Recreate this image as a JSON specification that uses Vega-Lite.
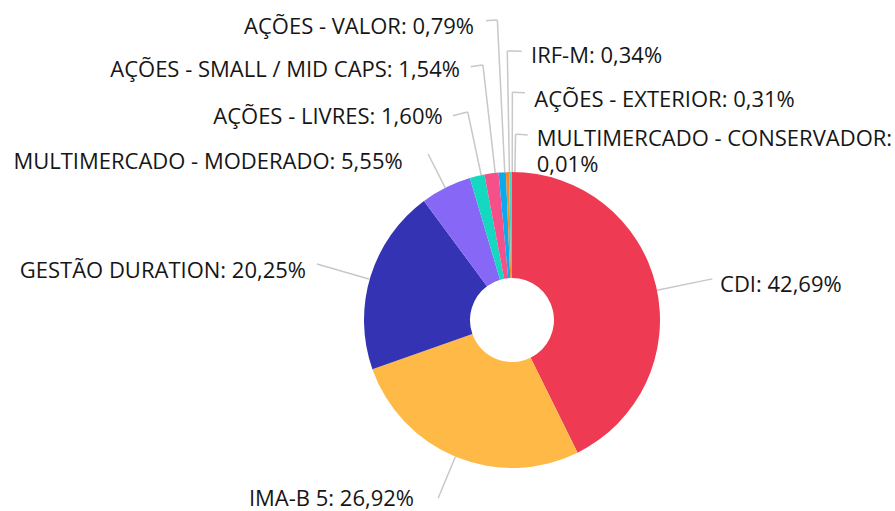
{
  "$schema": "https://vega.github.io/schema/vega-lite/v6.json",
  "width": 766,
  "height": 382,
  "padding": {"left": 129, "top": 129, "right": 0, "bottom": 0},
  "autosize": {"type": "none"},
  "background": "#ffffff",
  "config": {"view": {"stroke": null}},
  "data": {
    "values": [
      {"cat": "CDI", "value": 42.69},
      {"cat": "IMA-B 5", "value": 26.92},
      {"cat": "GESTÃO DURATION", "value": 20.25},
      {"cat": "MULTIMERCADO - MODERADO", "value": 5.55},
      {"cat": "AÇÕES - LIVRES", "value": 1.60},
      {"cat": "AÇÕES - SMALL / MID CAPS", "value": 1.54},
      {"cat": "AÇÕES - VALOR", "value": 0.79},
      {"cat": "IRF-M", "value": 0.34},
      {"cat": "AÇÕES - EXTERIOR", "value": 0.31},
      {"cat": "MULTIMERCADO - CONSERVADOR", "value": 0.01}
    ]
  },
  "transform": [
    {"stack": "value", "groupby": [], "as": ["v0", "v1"]},
    {"calculate": "(datum.v0 + datum.v1) / 2", "as": "mid"},
    {"calculate": "datum.cat + ': ' + replace(format(datum.value, '.2f'), '.', ',') + '%'", "as": "label"}
  ],
  "layer": [
    {
      "mark": {"type": "arc", "outerRadius": 148, "innerRadius": 42},
      "encoding": {
        "theta": {"field": "v0", "type": "quantitative", "stack": null, "scale": {"type": "linear", "domain": [0, 100], "range": [0, 6.283185307179586]}},
        "theta2": {"field": "v1"},
        "color": {
          "field": "cat", "type": "nominal", "legend": null,
          "scale": {
            "domain": ["CDI", "IMA-B 5", "GESTÃO DURATION", "MULTIMERCADO - MODERADO", "AÇÕES - LIVRES", "AÇÕES - SMALL / MID CAPS", "AÇÕES - VALOR", "IRF-M", "AÇÕES - EXTERIOR", "MULTIMERCADO - CONSERVADOR"],
            "range": ["#EE3A52", "#FFB946", "#3333B3", "#8768F6", "#14D9C0", "#F5508A", "#0BAAEF", "#F7892B", "#3CD6D0", "#FF6A3D"]
          }
        }
      }
    },
    {"transform": [{"filter": "datum.cat === 'CDI'"}], "mark": {"type": "arc", "outerRadius": 204.5, "innerRadius": 148, "thetaOffset": 0.0272, "theta2Offset": 0.0272, "stroke": "#c8c8c8", "strokeWidth": 1.5, "fillOpacity": 0}, "encoding": {"theta": {"field": "mid", "type": "quantitative", "stack": null, "scale": {"type": "linear", "domain": [0, 100], "range": [0, 6.283185307179586]}}, "theta2": {"field": "mid"}}},
    {"transform": [{"filter": "datum.cat === 'IMA-B 5'"}], "mark": {"type": "arc", "outerRadius": 193, "innerRadius": 148, "thetaOffset": 0.0063, "theta2Offset": 0.0063, "stroke": "#c8c8c8", "strokeWidth": 1.5, "fillOpacity": 0}, "encoding": {"theta": {"field": "mid", "type": "quantitative", "stack": null, "scale": {"type": "linear", "domain": [0, 100], "range": [0, 6.283185307179586]}}, "theta2": {"field": "mid"}}},
    {"transform": [{"filter": "datum.cat === 'GESTÃO DURATION'"}], "mark": {"type": "arc", "outerRadius": 203, "innerRadius": 148, "thetaOffset": -0.0183, "theta2Offset": -0.0183, "stroke": "#c8c8c8", "strokeWidth": 1.5, "fillOpacity": 0}, "encoding": {"theta": {"field": "mid", "type": "quantitative", "stack": null, "scale": {"type": "linear", "domain": [0, 100], "range": [0, 6.283185307179586]}}, "theta2": {"field": "mid"}}},
    {"transform": [{"filter": "datum.cat === 'MULTIMERCADO - MODERADO'"}], "mark": {"type": "arc", "outerRadius": 186, "innerRadius": 148, "thetaOffset": -0.0051, "theta2Offset": -0.0051, "stroke": "#c8c8c8", "strokeWidth": 1.5, "fillOpacity": 0}, "encoding": {"theta": {"field": "mid", "type": "quantitative", "stack": null, "scale": {"type": "linear", "domain": [0, 100], "range": [0, 6.283185307179586]}}, "theta2": {"field": "mid"}}},
    {"transform": [{"filter": "datum.cat === 'AÇÕES - LIVRES'"}], "mark": {"type": "arc", "outerRadius": 212.6, "innerRadius": 148, "thetaOffset": 0.0286, "theta2Offset": 0.0286, "stroke": "#c8c8c8", "strokeWidth": 1.5, "fillOpacity": 0}, "encoding": {"theta": {"field": "mid", "type": "quantitative", "stack": null, "scale": {"type": "linear", "domain": [0, 100], "range": [0, 6.283185307179586]}}, "theta2": {"field": "mid"}}},
    {"transform": [{"filter": "datum.cat === 'AÇÕES - LIVRES'"}], "mark": {"type": "arc", "outerRadius": 212.6, "innerRadius": 212.6, "thetaOffset": 0.0286, "theta2Offset": -0.0434, "stroke": "#c8c8c8", "strokeWidth": 1.5, "fillOpacity": 0}, "encoding": {"theta": {"field": "mid", "type": "quantitative", "stack": null, "scale": {"type": "linear", "domain": [0, 100], "range": [0, 6.283185307179586]}}, "theta2": {"field": "mid"}}},
    {"transform": [{"filter": "datum.cat === 'AÇÕES - SMALL / MID CAPS'"}], "mark": {"type": "arc", "outerRadius": 256.6, "innerRadius": 148, "thetaOffset": 0.026, "theta2Offset": 0.026, "stroke": "#c8c8c8", "strokeWidth": 1.5, "fillOpacity": 0}, "encoding": {"theta": {"field": "mid", "type": "quantitative", "stack": null, "scale": {"type": "linear", "domain": [0, 100], "range": [0, 6.283185307179586]}}, "theta2": {"field": "mid"}}},
    {"transform": [{"filter": "datum.cat === 'AÇÕES - SMALL / MID CAPS'"}], "mark": {"type": "arc", "outerRadius": 256.6, "innerRadius": 256.6, "thetaOffset": 0.026, "theta2Offset": -0.022, "stroke": "#c8c8c8", "strokeWidth": 1.5, "fillOpacity": 0}, "encoding": {"theta": {"field": "mid", "type": "quantitative", "stack": null, "scale": {"type": "linear", "domain": [0, 100], "range": [0, 6.283185307179586]}}, "theta2": {"field": "mid"}}},
    {"transform": [{"filter": "datum.cat === 'AÇÕES - VALOR'"}], "mark": {"type": "arc", "outerRadius": 300.4, "innerRadius": 148, "thetaOffset": 0.0175, "theta2Offset": 0.0175, "stroke": "#c8c8c8", "strokeWidth": 1.5, "fillOpacity": 0}, "encoding": {"theta": {"field": "mid", "type": "quantitative", "stack": null, "scale": {"type": "linear", "domain": [0, 100], "range": [0, 6.283185307179586]}}, "theta2": {"field": "mid"}}},
    {"transform": [{"filter": "datum.cat === 'AÇÕES - VALOR'"}], "mark": {"type": "arc", "outerRadius": 300.4, "innerRadius": 300.4, "thetaOffset": 0.0175, "theta2Offset": -0.0202, "stroke": "#c8c8c8", "strokeWidth": 1.5, "fillOpacity": 0}, "encoding": {"theta": {"field": "mid", "type": "quantitative", "stack": null, "scale": {"type": "linear", "domain": [0, 100], "range": [0, 6.283185307179586]}}, "theta2": {"field": "mid"}}},
    {"transform": [{"filter": "datum.cat === 'IRF-M'"}], "mark": {"type": "arc", "outerRadius": 269, "innerRadius": 148, "thetaOffset": 0.0133, "theta2Offset": 0.0133, "stroke": "#c8c8c8", "strokeWidth": 1.5, "fillOpacity": 0}, "encoding": {"theta": {"field": "mid", "type": "quantitative", "stack": null, "scale": {"type": "linear", "domain": [0, 100], "range": [0, 6.283185307179586]}}, "theta2": {"field": "mid"}}},
    {"transform": [{"filter": "datum.cat === 'IRF-M'"}], "mark": {"type": "arc", "outerRadius": 269, "innerRadius": 269, "thetaOffset": 0.0133, "theta2Offset": 0.0668, "stroke": "#c8c8c8", "strokeWidth": 1.5, "fillOpacity": 0}, "encoding": {"theta": {"field": "mid", "type": "quantitative", "stack": null, "scale": {"type": "linear", "domain": [0, 100], "range": [0, 6.283185307179586]}}, "theta2": {"field": "mid"}}},
    {"transform": [{"filter": "datum.cat === 'AÇÕES - EXTERIOR'"}], "mark": {"type": "arc", "outerRadius": 227.7, "innerRadius": 148, "thetaOffset": 0.012, "theta2Offset": 0.012, "stroke": "#c8c8c8", "strokeWidth": 1.5, "fillOpacity": 0}, "encoding": {"theta": {"field": "mid", "type": "quantitative", "stack": null, "scale": {"type": "linear", "domain": [0, 100], "range": [0, 6.283185307179586]}}, "theta2": {"field": "mid"}}},
    {"transform": [{"filter": "datum.cat === 'AÇÕES - EXTERIOR'"}], "mark": {"type": "arc", "outerRadius": 227.7, "innerRadius": 227.7, "thetaOffset": 0.012, "theta2Offset": 0.0673, "stroke": "#c8c8c8", "strokeWidth": 1.5, "fillOpacity": 0}, "encoding": {"theta": {"field": "mid", "type": "quantitative", "stack": null, "scale": {"type": "linear", "domain": [0, 100], "range": [0, 6.283185307179586]}}, "theta2": {"field": "mid"}}},
    {"transform": [{"filter": "datum.cat === 'MULTIMERCADO - CONSERVADOR'"}], "mark": {"type": "arc", "outerRadius": 185.7, "innerRadius": 148, "thetaOffset": 0.0195, "theta2Offset": 0.0195, "stroke": "#c8c8c8", "strokeWidth": 1.5, "fillOpacity": 0}, "encoding": {"theta": {"field": "mid", "type": "quantitative", "stack": null, "scale": {"type": "linear", "domain": [0, 100], "range": [0, 6.283185307179586]}}, "theta2": {"field": "mid"}}},
    {"transform": [{"filter": "datum.cat === 'MULTIMERCADO - CONSERVADOR'"}], "mark": {"type": "arc", "outerRadius": 185.7, "innerRadius": 185.7, "thetaOffset": 0.0195, "theta2Offset": 0.0845, "stroke": "#c8c8c8", "strokeWidth": 1.5, "fillOpacity": 0}, "encoding": {"theta": {"field": "mid", "type": "quantitative", "stack": null, "scale": {"type": "linear", "domain": [0, 100], "range": [0, 6.283185307179586]}}, "theta2": {"field": "mid"}}},
    {"transform": [{"filter": "datum.cat === 'CDI'"}], "mark": {"type": "text", "radius": 205, "align": "left", "baseline": "middle", "dx": 8.4, "dy": 11.9, "font": "Open Sans", "fontSize": 22, "color": "#161616"}, "encoding": {"theta": {"field": "mid", "type": "quantitative", "stack": null, "scale": {"type": "linear", "domain": [0, 100], "range": [0, 6.283185307179586]}}, "text": {"field": "label"}}},
    {"transform": [{"filter": "datum.cat === 'IMA-B 5'"}], "mark": {"type": "text", "radius": 195, "align": "right", "baseline": "middle", "dx": -24.5, "dy": -1.9, "font": "Open Sans", "fontSize": 22, "color": "#161616"}, "encoding": {"theta": {"field": "mid", "type": "quantitative", "stack": null, "scale": {"type": "linear", "domain": [0, 100], "range": [0, 6.283185307179586]}}, "text": {"field": "label"}}},
    {"transform": [{"filter": "datum.cat === 'GESTÃO DURATION'"}], "mark": {"type": "text", "radius": 203, "align": "right", "baseline": "middle", "dx": -11.9, "dy": 10.8, "font": "Open Sans", "fontSize": 22, "color": "#161616"}, "encoding": {"theta": {"field": "mid", "type": "quantitative", "stack": null, "scale": {"type": "linear", "domain": [0, 100], "range": [0, 6.283185307179586]}}, "text": {"field": "label"}}},
    {"transform": [{"filter": "datum.cat === 'MULTIMERCADO - MODERADO'"}], "mark": {"type": "text", "radius": 186, "align": "right", "baseline": "middle", "dx": -26.3, "dy": 8.0, "font": "Open Sans", "fontSize": 22, "color": "#161616"}, "encoding": {"theta": {"field": "mid", "type": "quantitative", "stack": null, "scale": {"type": "linear", "domain": [0, 100], "range": [0, 6.283185307179586]}}, "text": {"field": "label"}}},
    {"transform": [{"filter": "datum.cat === 'AÇÕES - LIVRES'"}], "mark": {"type": "text", "radius": 213, "align": "right", "baseline": "middle", "dx": -19.1, "dy": 3.95, "font": "Open Sans", "fontSize": 22, "color": "#161616"}, "encoding": {"theta": {"field": "mid", "type": "quantitative", "stack": null, "scale": {"type": "linear", "domain": [0, 100], "range": [0, 6.283185307179586]}}, "text": {"field": "label"}}},
    {"transform": [{"filter": "datum.cat === 'AÇÕES - SMALL / MID CAPS'"}], "mark": {"type": "text", "radius": 257, "align": "right", "baseline": "middle", "dx": -16.3, "dy": 4.05, "font": "Open Sans", "fontSize": 22, "color": "#161616"}, "encoding": {"theta": {"field": "mid", "type": "quantitative", "stack": null, "scale": {"type": "linear", "domain": [0, 100], "range": [0, 6.283185307179586]}}, "text": {"field": "label"}}},
    {"transform": [{"filter": "datum.cat === 'AÇÕES - VALOR'"}], "mark": {"type": "text", "radius": 300, "align": "right", "baseline": "middle", "dx": -18.1, "dy": 5.9, "font": "Open Sans", "fontSize": 22, "color": "#161616"}, "encoding": {"theta": {"field": "mid", "type": "quantitative", "stack": null, "scale": {"type": "linear", "domain": [0, 100], "range": [0, 6.283185307179586]}}, "text": {"field": "label"}}},
    {"transform": [{"filter": "datum.cat === 'IRF-M'"}], "mark": {"type": "text", "radius": 269, "align": "left", "baseline": "middle", "dx": 27.3, "dy": 5.1, "font": "Open Sans", "fontSize": 22, "color": "#161616"}, "encoding": {"theta": {"field": "mid", "type": "quantitative", "stack": null, "scale": {"type": "linear", "domain": [0, 100], "range": [0, 6.283185307179586]}}, "text": {"field": "label"}}},
    {"transform": [{"filter": "datum.cat === 'AÇÕES - EXTERIOR'"}], "mark": {"type": "text", "radius": 228, "align": "left", "baseline": "middle", "dx": 24.65, "dy": 8.25, "font": "Open Sans", "fontSize": 22, "color": "#161616"}, "encoding": {"theta": {"field": "mid", "type": "quantitative", "stack": null, "scale": {"type": "linear", "domain": [0, 100], "range": [0, 6.283185307179586]}}, "text": {"field": "label"}}},
    {"transform": [{"filter": "datum.cat === 'MULTIMERCADO - CONSERVADOR'"}, {"calculate": "[datum.cat + ':', replace(format(datum.value, '.2f'), '.', ',') + '%']", "as": "lab2"}], "mark": {"type": "text", "radius": 186, "align": "left", "baseline": "top", "lineHeight": 26, "dx": 24.8, "dy": -4.7, "font": "Open Sans", "fontSize": 22, "color": "#161616"}, "encoding": {"theta": {"field": "mid", "type": "quantitative", "stack": null, "scale": {"type": "linear", "domain": [0, 100], "range": [0, 6.283185307179586]}}, "text": {"field": "lab2"}}}
  ]
}
